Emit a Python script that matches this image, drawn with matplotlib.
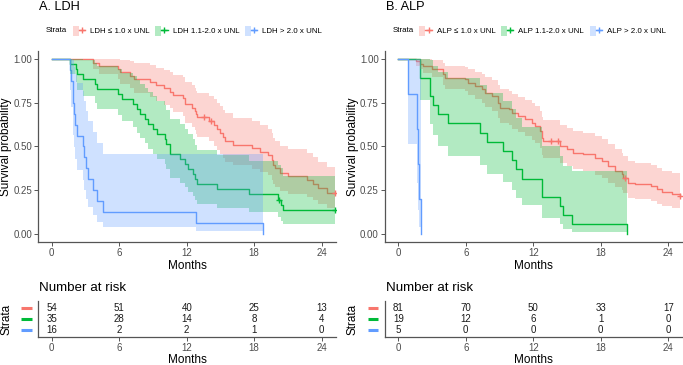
import numpy as np
import matplotlib.pyplot as plt
from matplotlib.patches import Patch
from matplotlib.lines import Line2D
from matplotlib.legend_handler import HandlerTuple

plt.rcParams['font.family'] = ['Liberation Sans', 'DejaVu Sans']

# Farben wie ggplot (3 Strata)
RED, GREEN, BLUE = '#F8766D', '#00BA38', '#619CFF'
colors = [RED, GREEN, BLUE]

# ---------------- A. LDH ----------------
ldh_labels = ['LDH \u2264 1.0 x UNL', 'LDH 1.1-2.0 x UNL', 'LDH > 2.0 x UNL']

ldh1_t = [0, 3.7, 4.2, 5.9, 6.1, 7.0, 7.3, 8.7, 9.3, 10.0, 10.5, 10.8, 11.7, 11.85, 12.5, 12.7, 12.8, 12.9, 14.0, 14.4,
          14.7, 15.0, 15.2, 15.4, 16.1, 17.8, 18.5, 19.25, 19.55, 19.7, 19.85, 20.3, 21.0, 22.7, 23.25, 23.7, 24.45, 25.2]
ldh1_s = [1, .981, .963, .944, .926, .907, .889, .870, .852, .833, .815, .796, .778, .741, .722, .704, .685, .667, .648, .625,
          .600, .578, .555, .532, .510, .490, .470, .450, .420, .395, .375, .350, .330, .310, .285, .260, .235, .235]
ldh1_lo = [1, .945, .914, .885, .860, .833, .808, .785, .762, .740, .718, .697, .675, .633, .612, .592, .572, .552, .530, .505,
           .480, .458, .435, .412, .392, .372, .352, .335, .305, .282, .265, .242, .225, .210, .190, .170, .145, .145]
ldh1_hi = [1, 1, 1, 1, .998, .988, .977, .965, .952, .939, .925, .911, .897, .868, .853, .838, .821, .805, .790, .770,
           .750, .730, .710, .690, .665, .645, .625, .600, .575, .550, .530, .505, .485, .465, .440, .410, .380, .380]

ldh2_t = [0, 1.63, 2.16, 2.28, 2.8, 3.85, 4.0, 5.93, 6.22, 7.26, 7.56, 7.85, 8.3, 8.6, 9.04, 9.33, 10.07, 10.2, 10.5, 11.4,
          11.85, 12.15, 12.6, 12.75, 12.9, 14.7, 17.5, 20.1, 20.4, 20.6, 25.2]
ldh2_s = [1, .971, .943, .914, .886, .857, .829, .800, .771, .743, .714, .686, .657, .629, .600, .571, .543, .514, .457, .429,
          .400, .371, .343, .314, .286, .257, .229, .195, .165, .134, .134]
ldh2_lo = [1, .916, .869, .826, .787, .749, .713, .678, .644, .611, .579, .548, .517, .487, .457, .428, .400, .372, .318, .292,
           .267, .241, .217, .193, .170, .147, .126, .096, .072, .055, .055]
ldh2_hi = [1, 1, 1, 1, .998, .981, .963, .944, .924, .902, .880, .859, .835, .811, .788, .762, .737, .709, .657, .630,
           .600, .571, .542, .510, .480, .449, .417, .395, .376, .330, .330]

ldh3_t = [0, 1.63, 1.75, 1.85, 1.93, 2.0, 2.07, 2.28, 2.76, 2.87, 3.05, 3.26, 3.7, 4.0, 4.59, 12.8, 18.75]
ldh3_s = [1, .9375, .875, .8125, .75, .6875, .625, .5625, .5, .4375, .375, .3125, .25, .1875, .125, .0625, 0]
ldh3_lo = [1, .826, .727, .642, .565, .494, .428, .365, .306, .251, .199, .151, .107, .068, .036, .015, 0]
ldh3_hi = [1, 1, 1, 1, .995, .957, .914, .866, .816, .763, .706, .646, .584, .520, .455, .455, 0]

ldh_cens = [([13.56, 14.2, 25.2], [.667, .648, .235]),
            ([20.2, 25.2], [.195, .134]),
            ([], [])]
ldh_risk = [[54, 51, 40, 25, 13], [35, 28, 14, 8, 4], [16, 2, 2, 1, 0]]

# ---------------- B. ALP ----------------
alp_labels = ['ALP \u2264 1.0 x UNL', 'ALP 1.1-2.0 x UNL', 'ALP > 2.0 x UNL']

alp1_t = [0, 1.57, 1.9, 2.2, 2.96, 4.0, 4.15, 5.93, 6.22, 6.8, 7.4, 7.7, 8.3, 8.9, 9.04, 9.8, 10.07, 10.67, 11.26, 11.85,
          12.15, 12.6, 12.75, 12.9, 14.37, 14.96, 15.55, 16.44, 17.48, 18.07, 18.67, 19.26, 19.85, 20.0, 20.44, 21.0,
          22.5, 22.96, 23.4, 24.3, 25.0]
alp1_s = [1, .988, .975, .963, .946, .914, .895, .885, .866, .847, .828, .809, .790, .751, .723, .713, .694, .675, .656, .635,
          .618, .589, .550, .530, .503, .484, .465, .455, .436, .417, .388, .360, .340, .321, .293, .283,
          .273, .254, .240, .226, .214]
alp1_lo = [1, .964, .942, .923, .898, .855, .831, .818, .795, .772, .750, .728, .706, .662, .632, .621, .601, .581, .561, .539,
           .521, .491, .452, .432, .405, .386, .368, .358, .339, .321, .293, .267, .248, .231, .206, .197,
           .188, .172, .160, .148, .138]
alp1_hi = [1, 1, 1, 1, .997, .977, .964, .957, .943, .929, .914, .899, .883, .851, .827, .818, .802, .785, .768, .748,
           .733, .706, .669, .650, .624, .606, .588, .579, .560, .542, .514, .485, .465, .446, .417, .407,
           .396, .376, .361, .346, .333]

alp2_t = [0, 1.93, 2.8, 3.1, 3.55, 4.44, 7.26, 7.85, 9.33, 10.07, 10.5, 10.96, 12.74, 14.37, 14.66, 15.4, 20.3]
alp2_s = [1, .895, .789, .737, .684, .632, .579, .526, .474, .421, .368, .316, .211, .158, .105, .053, 0]
alp2_lo = [1, .767, .626, .563, .504, .448, .395, .343, .295, .248, .204, .163, .088, .056, .028, .010, 0]
alp2_hi = [1, 1, .995, .964, .929, .891, .850, .806, .761, .713, .663, .613, .503, .447, .390, .357, 0]

alp3_t = [0, 0.83, 1.63, 1.78, 1.87, 2.0]
alp3_s = [1, .8, .6, .4, .2, 0]
alp3_lo = [1, .516, .293, .137, .035, 0]
alp3_hi = [1, 1, 1, 1, 1, 0]

alp_cens = [([13.6, 14.2, 20.15, 25.0], [.530, .530, .321, .214]),
            ([], []),
            ([], [])]
alp_risk = [[81, 70, 50, 33, 17], [19, 12, 6, 1, 0], [5, 0, 0, 0, 0]]

risk_times = [0, 6, 12, 18, 24]

ldh_curves = [(ldh1_t, ldh1_s, ldh1_lo, ldh1_hi), (ldh2_t, ldh2_s, ldh2_lo, ldh2_hi), (ldh3_t, ldh3_s, ldh3_lo, ldh3_hi)]
alp_curves = [(alp1_t, alp1_s, alp1_lo, alp1_hi), (alp2_t, alp2_s, alp2_lo, alp2_hi), (alp3_t, alp3_s, alp3_lo, alp3_hi)]

W, H = 683, 365
TICKC = '#4D4D4D'
SPINEC = '#555555'
LABEL_X = -0.087  # rechte Kante der gedrehten y-Beschriftung (Achsenkoordinaten)


def px(x, y, w, h):
    # Pixelbox (oben links) -> Figure-Koordinaten
    return [x / W, 1 - (y + h) / H, w / W, h / H]


def style_axes(ax):
    for s in ['top', 'right']:
        ax.spines[s].set_visible(False)
    for s in ['left', 'bottom']:
        ax.spines[s].set_color(SPINEC)
        ax.spines[s].set_linewidth(0.9)
    ax.tick_params(labelsize=7, colors=SPINEC, labelcolor=TICKC, length=2.8, width=0.7, pad=1.5)
    ax.set_xlim(-1.2, 25.3)
    ax.set_xticks(risk_times)


def km_panel(ax, curves, censors):
    for (t, s, lo, hi), c in zip(curves, colors):
        ax.step(t, s, where='post', color=c, lw=1.0, zorder=2)
    for (t, s, lo, hi), c in zip(curves, colors):
        ax.fill_between(t, lo, hi, step='post', color=c, alpha=0.3, lw=0, zorder=3)
    for (ct, cs), c in zip(censors, colors):
        if len(ct):
            ax.plot(ct, cs, ls='none', marker='+', color=c, ms=4.5, mew=1.0, zorder=4)
    style_axes(ax)
    ax.set_ylim(-0.05, 1.05)
    ax.set_yticks([0, .25, .5, .75, 1])
    ax.set_yticklabels(['0.00', '0.25', '0.50', '0.75', '1.00'])
    ax.set_xlabel('Months', fontsize=8.5, labelpad=1.5)
    ax.set_ylabel('Survival probability', fontsize=8.5)
    ax.yaxis.set_label_coords(LABEL_X, 0.5)


def risk_panel(ax, risk):
    for row, (vals, c) in enumerate(zip(risk, colors)):
        y = 3 - row
        for t, v in zip(risk_times, vals):
            ax.text(t, y, str(v), ha='center', va='center', fontsize=7, color='#1a1a1a')
        ax.plot([-0.058, -0.022], [y, y], transform=ax.get_yaxis_transform(), color=c, lw=2.2,
                clip_on=False, solid_capstyle='butt')
    style_axes(ax)
    ax.set_ylim(0.4, 3.6)
    ax.set_yticks([])
    ax.set_xlabel('Months', fontsize=8.5, labelpad=0.5)
    ax.set_ylabel('Strata', fontsize=8.5)
    ax.yaxis.set_label_coords(LABEL_X, 0.5)


fig = plt.figure(figsize=(W / 100, H / 100), dpi=100)

panels = [(38.2, 'A. LDH', ldh_curves, ldh_cens, ldh_risk, ldh_labels),
          (384.8, 'B. ALP', alp_curves, alp_cens, alp_risk, alp_labels)]

for x0, title, curves, cens, risk, labels in panels:
    ax = fig.add_axes(px(x0, 50.6, 298.1, 191.7))
    km_panel(ax, curves, cens)
    axr = fig.add_axes(px(x0, 301.0, 298.1, 36.3))
    risk_panel(axr, risk)

    fig.text((x0 + 1) / W, 1 - 7 / H, title, fontsize=9.2, va='center', ha='left')
    fig.text((x0 + 1) / W, 1 - 288 / H, 'Number at risk', fontsize=9.6, va='center', ha='left')
    fig.text((x0 + 7.5) / W, 1 - 30.7 / H, 'Strata', fontsize=5.7, va='center', ha='left')

    handles = [(Patch(facecolor=c, alpha=0.3, lw=0), Line2D([], [], color=c, lw=1.0, marker='+', ms=5, mew=1.0))
               for c in colors]
    fig.legend(handles, labels, handler_map={tuple: HandlerTuple(ndivide=None, pad=0)},
               loc='center left', bbox_to_anchor=((x0 + 34.5) / W, 1 - 30.7 / H), ncol=3, frameon=False,
               fontsize=5.7, handlelength=1.56, handleheight=1.5, handletextpad=0.63, columnspacing=0.7,
               borderpad=0, borderaxespad=0, numpoints=1)

fig.savefig('out.png', dpi=100)
